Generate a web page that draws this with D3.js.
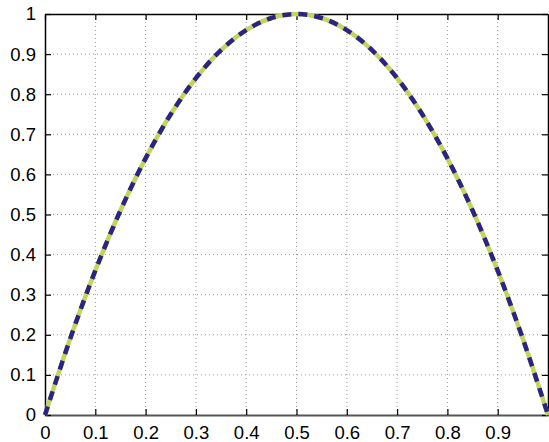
<!DOCTYPE html>
<html>
<head>
<meta charset="utf-8">
<script src="https://cdn.jsdelivr.net/npm/d3@7"></script>
<style>
  body { margin: 0; background: #fff; }
  text { font-family: "Liberation Sans", Arial, sans-serif; }
</style>
</head>
<body>
<div id="chart"></div>
<script>
// values
var xValues = [0, 0.05, 0.1, 0.15, 0.2, 0.25, 0.3, 0.35, 0.4, 0.45, 0.5,
               0.55, 0.6, 0.65, 0.7, 0.75, 0.8, 0.85, 0.9, 0.95, 1];
var yValues = [0, 0.19, 0.36, 0.51, 0.64, 0.75, 0.84, 0.91, 0.96, 0.99, 1,
               0.99, 0.96, 0.91, 0.84, 0.75, 0.64, 0.51, 0.36, 0.19, 0];
var xTicks = [0, 0.1, 0.2, 0.3, 0.4, 0.5, 0.6, 0.7, 0.8, 0.9];
var yTicks = [0, 0.1, 0.2, 0.3, 0.4, 0.5, 0.6, 0.7, 0.8, 0.9, 1];

var margin = {top: 14, right: 1, bottom: 27, left: 45},
    width = 549 - margin.left - margin.right,
    height = 442 - margin.top - margin.bottom;

var svg = d3.select("#chart")
  .append("svg")
    .attr("width", 549)
    .attr("height", 442)
  .append("g")
    .attr("transform", "translate(" + margin.left + "," + margin.top + ")");

var x = d3.scaleLinear().domain([0, 1]).range([0, width]);
var y = d3.scaleLinear().domain([0, 1]).range([height, 0]);

// grid
svg.append("g")
  .selectAll("line")
  .data(xTicks.slice(1))
  .enter().append("line")
    .attr("x1", d => x(d)).attr("x2", d => x(d))
    .attr("y1", 0).attr("y2", height)
    .attr("stroke", "#999").attr("stroke-width", 1)
    .attr("stroke-dasharray", "1,3");
svg.append("g")
  .selectAll("line")
  .data(yTicks.slice(1, -1))
  .enter().append("line")
    .attr("y1", d => y(d)).attr("y2", d => y(d))
    .attr("x1", 0).attr("x2", width)
    .attr("stroke", "#999").attr("stroke-width", 1)
    .attr("stroke-dasharray", "1,3");

// axes with inward ticks
svg.append("g")
  .attr("transform", "translate(0," + height + ")")
  .attr("class", "xaxis")
  .call(d3.axisBottom(x).tickValues(xTicks).tickSizeInner(-6).tickSizeOuter(0)
    .tickPadding(11).tickFormat(d3.format("")));
svg.append("g")
  .call(d3.axisLeft(y).tickValues(yTicks).tickSizeInner(-6).tickSizeOuter(0)
    .tickPadding(9).tickFormat(d3.format("")));
svg.append("g")
  .call(d3.axisTop(x).tickValues(xTicks).tickSizeInner(-6).tickSizeOuter(0).tickFormat(""));
svg.append("g")
  .attr("transform", "translate(" + width + ",0)")
  .call(d3.axisRight(y).tickValues(yTicks).tickSizeInner(-6).tickSizeOuter(0).tickFormat(""));

svg.selectAll(".domain").attr("stroke", "#000").attr("stroke-width", 1.5);
svg.select(".xaxis .domain").attr("stroke", "#555").attr("stroke-width", 2);
svg.selectAll(".tick line").attr("stroke", "#000").attr("stroke-width", 1.2);
svg.selectAll(".tick text").attr("font-size", "18.5px").attr("fill", "#000");

// curve: yellow-green line under navy dashes
var line = d3.line()
  .x((d, i) => x(xValues[i]))
  .y(d => y(d))
  .curve(d3.curveCatmullRom);

svg.append("path")
  .datum(yValues)
  .attr("d", line)
  .attr("fill", "none")
  .attr("stroke", "#c2d55a")
  .attr("stroke-width", 4.5);
svg.append("path")
  .datum(yValues)
  .attr("d", line)
  .attr("fill", "none")
  .attr("stroke", "#2c2484")
  .attr("stroke-width", 4.5)
  .attr("stroke-dasharray", "9,7");
</script>
</body>
</html>
